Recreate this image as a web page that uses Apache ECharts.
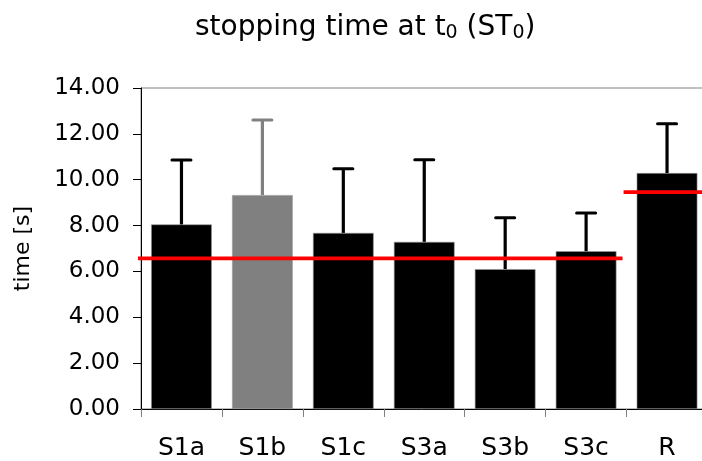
<!DOCTYPE html>
<html><head><meta charset="utf-8">
<script src="https://cdn.jsdelivr.net/npm/echarts@6/dist/echarts.min.js"></script>
<style>html,body{margin:0;padding:0;background:#fff}#c{width:702px;height:461px}</style>
</head><body><div id="c"></div>
<script>
// ---- data ----
const categories = ['S1a', 'S1b', 'S1c', 'S3a', 'S3b', 'S3c', 'R'];
const meanValues = [8.05, 9.33, 7.68, 7.29, 6.10, 6.88, 10.29];
const upperErrors = [2.81, 3.27, 2.80, 3.58, 2.24, 1.67, 2.15];
const refStart = ['S1a', 'R'];
const refEnd = ['S3c', 'R'];
const refValues = [6.57, 9.46];
const yTicks = [0, 2, 4, 6, 8, 10, 12, 14];

// ---- style ----
const FONT = '"DejaVu Sans", Verdana, sans-serif';
const highlighted = 'S1b';
const colorOf = (name) => name === highlighted ? '#808080' : '#000000';

const chart = echarts.init(document.getElementById('c'), null, {renderer: 'canvas'});

const errData = categories.map((c, i) => [i, meanValues[i], meanValues[i] + upperErrors[i]]);
const refData = refValues.map((v, i) => [categories.indexOf(refStart[i]), categories.indexOf(refEnd[i]), v]);

chart.setOption({
  animation: false,
  backgroundColor: '#ffffff',
  title: {
    text: 'stopping time at t{sub|0} (ST{sub|0})',
    left: 195,
    top: 13,
    padding: 0,
    textStyle: {
      fontFamily: FONT, fontSize: 28, fontWeight: 'normal', color: '#000', lineHeight: 30,
      rich: {
        sub: {fontFamily: FONT, fontSize: 19, color: '#000', verticalAlign: 'bottom', lineHeight: 10}
      }
    }
  },
  grid: {
    left: 141, top: 88, width: 566.5, height: 321,
    show: true, borderColor: '#808080', borderWidth: 1, backgroundColor: 'transparent',
    containLabel: false, outerBoundsMode: 'none'
  },
  xAxis: {
    type: 'category',
    data: categories,
    boundaryGap: true,
    axisLine: {show: true, lineStyle: {color: '#000', width: 1}},
    axisTick: {show: true, inside: false, length: 8, alignWithLabel: false, lineStyle: {color: '#808080', width: 1}},
    axisLabel: {color: '#000', fontFamily: FONT, fontSize: 25, margin: 27, interval: 0},
    splitLine: {show: false}
  },
  yAxis: {
    type: 'value',
    min: yTicks[0], max: yTicks[yTicks.length - 1], interval: yTicks[1] - yTicks[0],
    name: 'time [s]',
    nameLocation: 'middle',
    nameGap: 107,
    nameRotate: 90,
    nameTextStyle: {color: '#000', fontFamily: FONT, fontSize: 22},
    axisLine: {show: true, lineStyle: {color: '#000', width: 1}},
    axisTick: {show: true, inside: false, length: 8, lineStyle: {color: '#000', width: 1}},
    axisLabel: {color: '#000', fontFamily: FONT, fontSize: 23, margin: 21, formatter: v => v.toFixed(2)},
    splitLine: {show: false}
  },
  series: [
    {
      type: 'bar',
      data: meanValues.map((v, i) => ({value: v, itemStyle: {color: colorOf(categories[i])}})),
      barWidth: '75%',
      itemStyle: {borderColor: '#9a9a9a', borderWidth: 0.6},
      z: 2
    },
    {
      type: 'custom',
      data: errData,
      z: 3,
      renderItem: function (params, api) {
        const i = api.value(0);
        const base = api.coord([i, api.value(1)]);
        const top = api.coord([i, api.value(2)]);
        const col = colorOf(categories[i]);
        const half = 9.5;
        return {
          type: 'group',
          children: [
            {type: 'line', shape: {x1: base[0], y1: base[1], x2: top[0], y2: top[1]},
             style: {stroke: col, lineWidth: 3.2}},
            {type: 'line', shape: {x1: top[0] - half, y1: top[1], x2: top[0] + half, y2: top[1]},
             style: {stroke: col, lineWidth: 3, lineCap: 'round'}}
          ]
        };
      }
    },
    {
      type: 'custom',
      data: refData,
      z: 4,
      clip: false,
      renderItem: function (params, api) {
        const band = api.size([1, 0])[0];
        const a = api.coord([api.value(0), api.value(2)]);
        const b = api.coord([api.value(1), api.value(2)]);
        return {
          type: 'line',
          shape: {x1: a[0] - band / 2 - 3, y1: a[1], x2: b[0] + band / 2 - 4, y2: b[1]},
          style: {stroke: '#ff0000', lineWidth: 3.6}
        };
      }
    }
  ]
});
</script>
</body></html>
